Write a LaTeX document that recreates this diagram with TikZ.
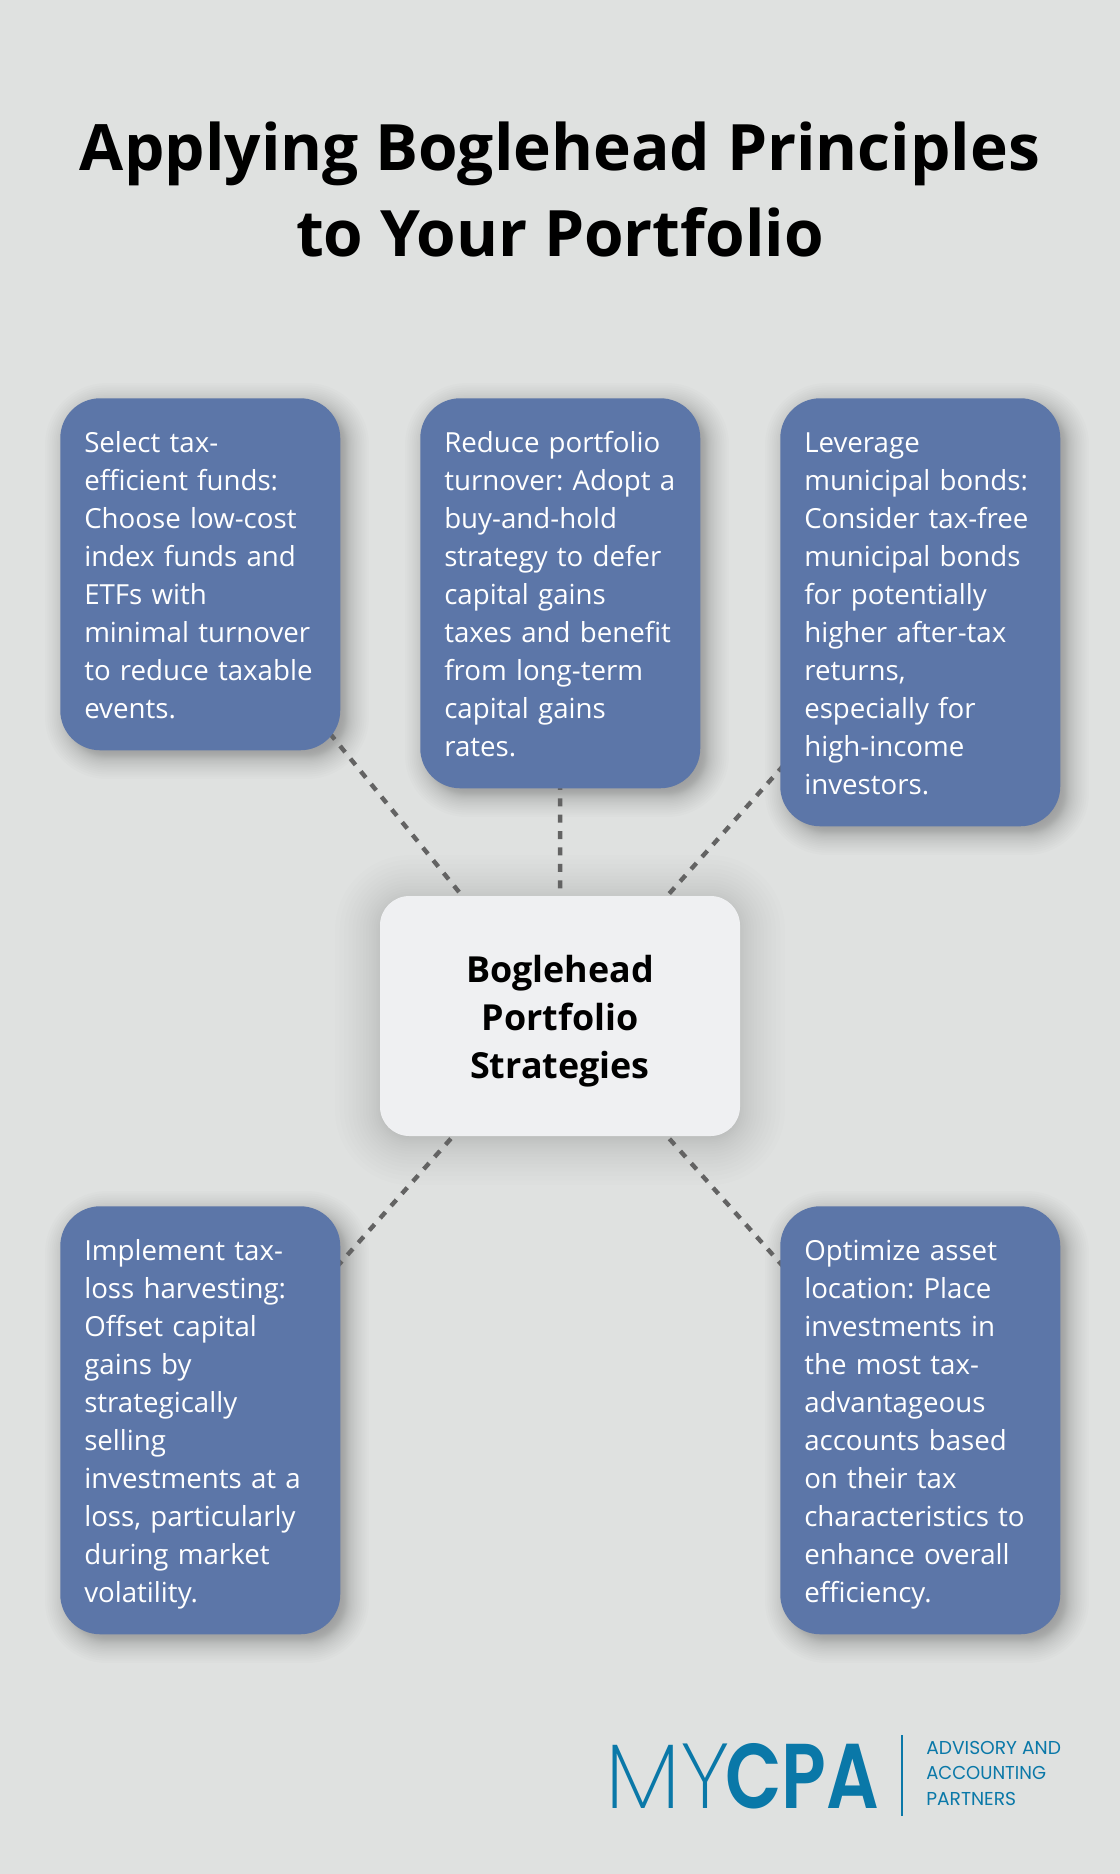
\documentclass[tikz,border=0pt]{standalone}
\usepackage{fontspec}
\setmainfont{Open Sans}
\newfontfamily\logolight{Poppins ExtraLight}
\newfontfamily\logobold[FakeStretch=0.8]{Poppins SemiBold}
\newfontfamily\logotag{Poppins}
\usetikzlibrary{backgrounds}
\definecolor{pagebg}{HTML}{DFE1E0}
\definecolor{boxblue}{HTML}{5C76A8}
\definecolor{corebox}{HTML}{EFF0F2}
\definecolor{dashgrey}{HTML}{636363}
\definecolor{logoblue}{HTML}{0A78A8}
\pgfdeclarelayer{shad}
\pgfdeclarelayer{conn}
\pgfsetlayers{background,shad,conn,main}
% x0 y0 x1 y1 radius blur dx dy opacity-per-layer
\newcommand{\softshadow}[9]{%
  \begin{pgfonlayer}{shad}
  \foreach \i in {0,...,29}{%
    \pgfmathsetmacro{\uu}{1-\i/14.5}%
    \pgfmathsetmacro{\dd}{#6*\uu*(0.45+0.55*abs(\uu))}%
    \pgfmathsetmacro{\rr}{max(#5+\dd,2)*0.75}%
    \fill[black,opacity=#9,rounded corners=\rr pt]
      ({#1+#7-\dd},{#2+#8-\dd}) rectangle ({#3+#7+\dd},{#4+#8+\dd});
  }%
  \end{pgfonlayer}%
}
\newcommand{\topstrut}{\rule{0pt}{22.65pt}}
\newcommand{\botstrut}{\rule[-5.85pt]{0pt}{5.85pt}}
\tikzset{
  x=0.75pt,y=-0.75pt,
  infobox/.style={draw=none,fill=boxblue,rounded corners=30pt,text=white,anchor=north west,
    text width=174pt,inner xsep=18pt,inner ysep=18pt,align=left,
    font=\fontsize{20.75}{28.5}\selectfont\frenchspacing},
  corenode/.style={fill=corebox,rounded corners=22pt,text=black,anchor=center,
    minimum width=270pt,minimum height=180pt,inner sep=0pt,align=center,
    font=\fontsize{26.9}{36}\selectfont\bfseries},
  titletext/.style={text=black,align=center,inner sep=0pt,anchor=center,
    font=\fontsize{48}{64.5}\selectfont\bfseries},
  dashlink/.style={draw=dashgrey,line width=3.3pt,dash pattern=on 6pt off 6.3pt,dash phase=6.15pt},
  tagtext/.style={text=logoblue,anchor=base west,inner sep=0pt,font=\logotag\fontsize{14}{14}\selectfont},
}
\begin{document}
\begin{tikzpicture}
\begin{pgfonlayer}{background}
\fill[pagebg] (0,0) rectangle (1120,1874);
\end{pgfonlayer}
\useasboundingbox (0,0) rectangle (1120,1874);

\node[titletext] (title) at (560,189.5) {Applying Boglehead Principles\\to Your Portfolio};

\node[infobox] (b1) at (60,398) {\topstrut Select tax-\\efficient funds:\\Choose low-cost\\index funds and\\ETFs with\\minimal turnover\\to reduce taxable\\events.\botstrut};
\node[infobox] (b2) at (420,398) {\topstrut Reduce portfolio\\turnover: Adopt a\\buy-and-hold\\strategy to defer\\capital gains\\taxes and benefit\\from long-term\\capital gains\\rates.\botstrut};
\node[infobox] (b3) at (780,398) {\topstrut Leverage\\municipal bonds:\\Consider tax-free\\municipal bonds\\for potentially\\higher after-tax\\returns,\\especially for\\high-income\\investors.\botstrut};
\node[infobox] (b4) at (60,1206) {\topstrut Implement tax-\\loss harvesting:\\Offset capital\\gains by\\strategically\\selling\\investments at a\\loss, particularly\\during market\\volatility.\botstrut};
\node[infobox] (b5) at (780,1206) {\topstrut Optimize asset\\location: Place\\investments in\\the most tax-\\advantageous\\accounts based\\on their tax\\characteristics to\\enhance overall\\efficiency.\botstrut};
\node[corenode] (core) at (560,1016) {\rule{0pt}{28.5pt}Boglehead\\Portfolio\\Strategies};

\softshadow{60}{398}{340}{750}{40}{22}{7}{7}{0.0135}
\softshadow{420}{398}{700}{788}{40}{22}{7}{7}{0.0135}
\softshadow{780}{398}{1060}{826}{40}{22}{7}{7}{0.0135}
\softshadow{60}{1206}{340}{1634}{40}{22}{7}{7}{0.0135}
\softshadow{780}{1206}{1060}{1634}{40}{22}{7}{7}{0.0135}
\softshadow{380}{896}{740}{1136}{30}{45}{0}{4}{0.0075}

\begin{pgfonlayer}{conn}
\draw[dashlink] (b1.center) -- (core.center);
\draw[dashlink] (b2.center) -- (core.center);
\draw[dashlink] (b3.center) -- (core.center);
\draw[dashlink] (b4.center) -- (core.center);
\draw[dashlink] (b5.center) -- (core.center);
\end{pgfonlayer}

\node[text=logoblue,anchor=base west,inner sep=0pt,font=\logolight\fontsize{69}{69}\selectfont] (my) at (605,1808) {MY};
\node[text=logoblue,anchor=base west,inner sep=0pt,font=\logobold\fontsize{69}{69}\selectfont] (cpa) at (725,1808) {CPA};
\draw[logoblue,line width=1pt] (902,1735) -- (902,1816);
\node[tagtext] (t1) at (926,1754) {ADVISORY AND};
\node[tagtext] (t2) at (926,1779.5) {\scalebox{0.965}[1]{ACCOUNTING}};
\node[tagtext] (t3) at (926,1805) {PARTNERS};
\end{tikzpicture}
\end{document}
